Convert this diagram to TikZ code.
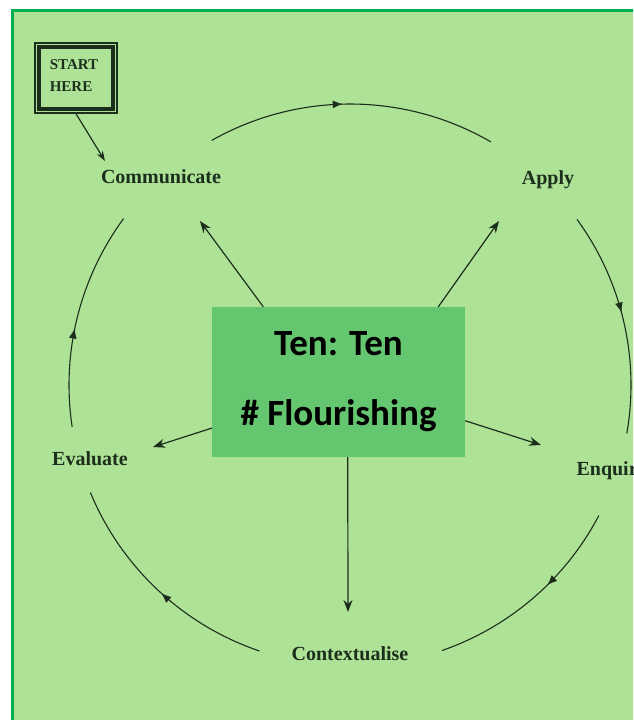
\documentclass[tikz,border=0pt]{standalone}
\usepackage{fontspec}
\setmainfont{Liberation Serif}
\newfontfamily\boxfont{Carlito}
\usetikzlibrary{arrows.meta,decorations.markings}

\definecolor{bggreen}{HTML}{AEE296}
\definecolor{framegreen}{HTML}{00B050}
\definecolor{boxgreen}{HTML}{64C66F}
\definecolor{ink}{HTML}{1C2E1C}

\tikzset{
  stagetext/.style={text=ink,font=\fontsize{20}{24}\selectfont\bfseries},
  spoke/.style={draw=ink,line width=1.2pt,-{Stealth[length=12pt,width=9pt]}},
  looparc/.style={draw=ink,line width=1.1pt,postaction={decorate},
    decoration={markings,mark=at position #1 with {\arrow{Latex[length=10pt,width=8pt]}}}}
}

\begin{document}
\begin{tikzpicture}[x=1pt,y=-1pt]
\useasboundingbox (0,0) rectangle (633,720);
\clip (0,0) rectangle (633,720);
\fill[white] (0,0) rectangle (633,720);
\draw[framegreen,line width=3pt,fill=bggreen] (12.5,10.5) rectangle (700,800);

% centre box
\node[fill=boxgreen,minimum width=253pt,minimum height=150pt,align=center,
  font=\boxfont\bfseries\fontsize{37}{70}\selectfont] (box) at (338.5,382) {Ten: Ten\\\# Flourishing};

% stages
\node[stagetext] (com) at (161,177) {Communicate};
\node[stagetext] (app) at (548,180) {Apply};
\node[stagetext,anchor=west] (enq) at (573,471) {Enquire};
\node[stagetext] (con) at (350,654) {Contextualise};
\node[stagetext] (eva) at (90,459) {Evaluate};

% start box
\node[draw=ink,line width=1.5pt,minimum width=82pt,minimum height=70pt] (start) at (76,78) {};
\draw[ink,line width=4pt] (start.north west) ++(4.5,4.5) rectangle ([shift={(-4.5,-4.5)}]start.south east);
\node[text=ink,align=left,font=\fontsize{15}{22}\selectfont\bfseries] (starttext) at (74,76) {START\\HERE};
\coordinate (comtop) at (105,161);
\draw[ink,line width=1.2pt,-{Stealth[length=10pt,width=7pt]}] (start.south) -- (comtop);

% spokes
\coordinate (tcom) at (200,221);
\coordinate (tapp) at (499,221);
\coordinate (tenq) at (541,445);
\coordinate (teva) at (153,447);
\coordinate (tcon) at (348,612);
\draw[spoke] (box.135.6) -- (tcom);
\draw[spoke] (box.37.3) -- (tapp);
\draw[spoke] (box.-17.1) -- (tenq);
\draw[spoke] (box.200) -- (teva);
\draw[spoke] (box.277.2) -- (tcon);

% cycle
\coordinate (mid) at (350,385);
\draw[looparc=0.47] ([shift={(240.5:281)}]mid) arc[start angle=240.5,end angle=300.1,radius=281];
\draw[looparc=0.46] ([shift={(-36.1:281)}]mid) arc[start angle=-36.1,end angle=9.9,radius=281];
\draw[looparc=0.41] ([shift={(27.7:281)}]mid) arc[start angle=27.7,end angle=70.9,radius=281];
\draw[looparc=0.48] ([shift={(108.8:281)}]mid) arc[start angle=108.8,end angle=157.5,radius=281];
\draw[looparc=0.45] ([shift={(171.4:281)}]mid) arc[start angle=171.4,end angle=216.3,radius=281];
\end{tikzpicture}
\end{document}
